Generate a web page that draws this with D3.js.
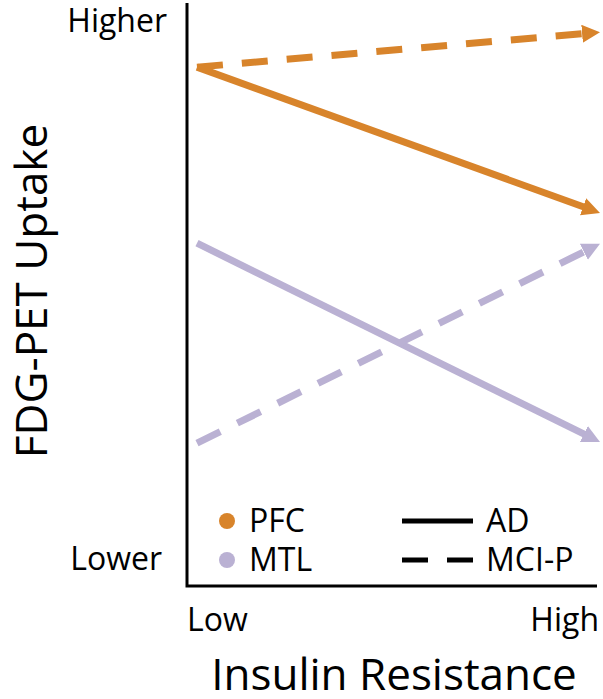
<!DOCTYPE html>
<html>
<head>
<meta charset="utf-8">
<script src="https://cdn.jsdelivr.net/npm/d3@7"></script>
<style>
  html, body { margin: 0; padding: 0; background: #fff; }
  svg { display: block; }
  text { font-family: "Open Sans", sans-serif; fill: #000; }
</style>
</head>
<body>
<svg id="chart" width="603" height="699"></svg>
<script>
// ---- data ----
const categories = ["Low", "High"];
const yTickLabels = ["Lower", "Higher"];
const regions = ["PFC", "MTL"];
const groups = ["AD", "MCI-P"];
const pfcAD  = [89.0, 64.0];
const pfcMCI = [89.0, 95.0];
const mtlAD  = [58.8, 24.7];
const mtlMCI = [24.5, 58.7];
const xTitle = "Insulin Resistance";
const yTitle = "FDG-PET Uptake";

// ---- styles ----
const colors = { PFC: "#d8842b", MTL: "#bab1d3" };
const dashes = { "AD": null, "MCI-P": "26,19" };

const series = [
  { region: "PFC", group: "MCI-P", values: pfcMCI },
  { region: "PFC", group: "AD",    values: pfcAD },
  { region: "MTL", group: "AD",    values: mtlAD },
  { region: "MTL", group: "MCI-P", values: mtlMCI }
];

const svg = d3.select("#chart");
const axisX = 187, axisY = 586, axisTop = 3, axisRight = 597;

const x = d3.scalePoint().domain(categories).range([197, 600]).padding(0);
const y = d3.scaleLinear().domain([0, 100]).range([axisY, axisTop]);

// axes lines
svg.append("path")
  .attr("d", `M${axisX},${axisTop}V${axisY}H${axisRight}`)
  .attr("fill", "none").attr("stroke", "#000").attr("stroke-width", 3);

// arrow markers
const defs = svg.append("defs");
regions.forEach(r => {
  defs.append("marker")
    .attr("id", "arrow-" + r)
    .attr("markerUnits", "userSpaceOnUse")
    .attr("markerWidth", 20).attr("markerHeight", 20)
    .attr("refX", 18).attr("refY", 9)
    .attr("orient", "auto")
    .append("path")
    .attr("d", "M0,0L18,9L0,18Z")
    .attr("fill", colors[r]);
});

// lines
const arrowLen = 12;
series.forEach(s => {
  const pts = s.values.map((v, i) => [x(categories[i]), y(v)]);
  const [p0, p1] = pts;
  const dx = p1[0] - p0[0], dy = p1[1] - p0[1];
  const len = Math.hypot(dx, dy);
  const pEnd = [p1[0] - dx / len * arrowLen, p1[1] - dy / len * arrowLen];
  svg.append("path")
    .attr("d", d3.line()([p0, pEnd]))
    .attr("fill", "none")
    .attr("stroke", colors[s.region])
    .attr("stroke-width", 7)
    .attr("stroke-dasharray", dashes[s.group]);
  // arrowhead at the exact data point
  svg.append("path")
    .attr("d", d3.line()([pEnd, p1]))
    .attr("fill", "none")
    .attr("stroke", "none")
    .attr("marker-end", `url(#arrow-${s.region})`);
});

// y tick labels
svg.append("text").text(yTickLabels[1])
  .attr("x", 167).attr("y", y(100) + 29)
  .attr("text-anchor", "end").attr("font-size", 32);
svg.append("text").text(yTickLabels[0])
  .attr("x", 162).attr("y", y(0) - 16)
  .attr("text-anchor", "end").attr("font-size", 32);

// x tick labels
svg.append("text").text(categories[0])
  .attr("x", axisX).attr("y", 631)
  .attr("text-anchor", "start").attr("font-size", 32);
svg.append("text").text(categories[1])
  .attr("x", 599).attr("y", 631)
  .attr("text-anchor", "end").attr("font-size", 32);

// axis titles
svg.append("text").text(xTitle)
  .attr("x", 394).attr("y", 690)
  .attr("text-anchor", "middle").attr("font-size", 44);
svg.append("text").text(yTitle)
  .attr("transform", "translate(47,291) rotate(-90)")
  .attr("text-anchor", "middle").attr("font-size", 44);

// legend
const legY = [521, 560];
regions.forEach((r, i) => {
  svg.append("circle")
    .attr("cx", 227).attr("cy", legY[i]).attr("r", 8)
    .attr("fill", colors[r]);
  svg.append("text").text(r)
    .attr("x", 249).attr("y", legY[i] + 11)
    .attr("font-size", 32);
});
groups.forEach((g, i) => {
  svg.append("line")
    .attr("x1", 402).attr("x2", 473)
    .attr("y1", legY[i]).attr("y2", legY[i])
    .attr("stroke", "#000").attr("stroke-width", 5)
    .attr("stroke-dasharray", dashes[g]);
  svg.append("text").text(g)
    .attr("x", 486).attr("y", legY[i] + 11)
    .attr("font-size", 32);
});
</script>
</body>
</html>
